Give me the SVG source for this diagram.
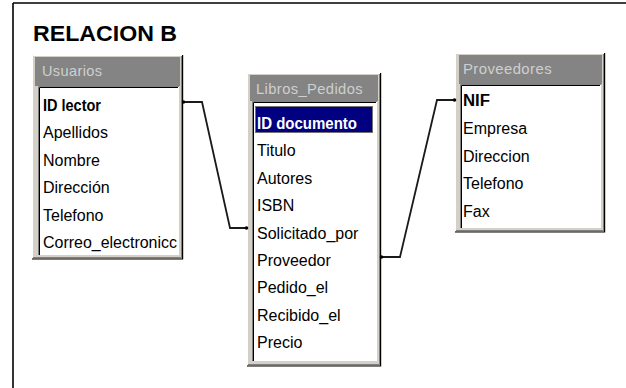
<svg xmlns="http://www.w3.org/2000/svg" width="626" height="388" viewBox="0 0 626 388">
<style>
.frame{fill:#d4d0c8;}
.hl{stroke:#ffffff;stroke-width:1;fill:none;}
.sh1{stroke:#000000;stroke-width:1.2;fill:none;}
.sh2{stroke:#808080;stroke-width:1;fill:none;}
.head{fill:#848484;}
.htxt{font-family:"Liberation Sans",Arial,sans-serif;font-size:14.5px;fill:#cfcfcf;letter-spacing:0.4px;}
.list{fill:#ffffff;}
.sunk1{stroke:#808080;stroke-width:1;fill:none;}
.sunk2{stroke:#000000;stroke-width:1;fill:none;}
.f{font-family:"Liberation Sans",Arial,sans-serif;font-size:16px;fill:#000000;}
.fb{font-family:"Liberation Sans",Arial,sans-serif;font-size:16px;font-weight:bold;fill:#000000;}
.conn{stroke:#1a1a1a;stroke-width:1.8;fill:none;stroke-linejoin:miter;}
.dot{fill:#000000;}
</style>

<g id="page">
<line x1="13" y1="3" x2="626" y2="3" stroke="#000" stroke-width="1.6"/>
<line x1="13" y1="3" x2="13" y2="388" stroke="#000" stroke-width="1.6"/>
<text x="33" y="41" font-family="Liberation Sans,Arial,sans-serif" font-size="22" font-weight="bold" fill="#000" textLength="144" lengthAdjust="spacingAndGlyphs">RELACION B</text>
</g>

<g id="usuarios">
<rect class="frame" x="32" y="55" width="151" height="204"/>
<polyline class="hl" points="32.5,258 32.5,55.5 182,55.5"/>
<polyline class="sh2" points="33,257.5 181.5,257.5 181.5,56"/>
<polyline class="sh1" points="32,259 182.6,259 182.6,55"/>
<rect class="head" x="35" y="57" width="145" height="29"/>
<text class="htxt" x="42" y="76">Usuarios</text>
<rect class="list" x="39" y="87" width="140" height="168"/>
<polyline class="sunk1" points="38.5,255 38.5,86.5 179,86.5"/>
<polyline class="sunk2" points="39.5,255 39.5,87.5 178,87.5"/>
<text class="fb" x="43" y="111" textLength="58" lengthAdjust="spacingAndGlyphs">ID lector</text>
<text class="f" x="43" y="138">Apellidos</text>
<text class="f" x="43" y="165.5">Nombre</text>
<text class="f" x="43" y="193">Dirección</text>
<text class="f" x="43" y="220.5">Telefono</text>
<text class="f" x="43" y="248" textLength="134" lengthAdjust="spacingAndGlyphs">Correo_electronicc</text>
</g>

<g id="libros_pedidos">
<rect class="frame" x="247" y="73" width="134" height="293"/>
<polyline class="hl" points="247.5,365 247.5,73.5 380,73.5"/>
<polyline class="sh2" points="248,364.5 379.5,364.5 379.5,74"/>
<polyline class="sh1" points="247,366 380.6,366 380.6,73"/>
<rect class="head" x="250" y="75" width="128" height="26"/>
<text class="htxt" x="256" y="94" textLength="107" lengthAdjust="spacingAndGlyphs">Libros_Pedidos</text>
<rect class="list" x="253" y="102" width="124" height="259"/>
<polyline class="sunk1" points="252.5,361 252.5,101.5 377,101.5"/>
<polyline class="sunk2" points="253.5,361 253.5,102.5 376,102.5"/>
<rect x="255" y="106" width="118" height="27" fill="#000080"/>
<rect x="255.5" y="106.5" width="117" height="26" fill="none" stroke="#e8e060" stroke-width="1" stroke-dasharray="1,1"/>
<text class="fb" x="257" y="129" fill="#ffffff" style="fill:#ffffff" textLength="100" lengthAdjust="spacingAndGlyphs">ID documento</text>
<text class="f" x="257" y="156">Titulo</text>
<text class="f" x="257" y="183.5">Autores</text>
<text class="f" x="257" y="211">ISBN</text>
<text class="f" x="257" y="238.5">Solicitado_por</text>
<text class="f" x="257" y="265.5">Proveedor</text>
<text class="f" x="257" y="293">Pedido_el</text>
<text class="f" x="257" y="320.5">Recibido_el</text>
<text class="f" x="257" y="347.5">Precio</text>
</g>

<g id="proveedores">
<rect class="frame" x="455" y="53" width="150" height="179"/>
<polyline class="hl" points="455.5,231 455.5,53.5 604,53.5"/>
<polyline class="sh2" points="456,230.5 603.5,230.5 603.5,54"/>
<polyline class="sh1" points="455,232 604.6,232 604.6,53"/>
<rect class="head" x="459" y="55" width="143" height="29"/>
<text class="htxt" x="463" y="74" textLength="89" lengthAdjust="spacingAndGlyphs">Proveedores</text>
<rect class="list" x="461" y="85" width="140" height="143"/>
<polyline class="sunk1" points="460.5,228 460.5,84.5 601,84.5"/>
<polyline class="sunk2" points="461.5,228 461.5,85.5 600,85.5"/>
<text class="fb" x="463" y="106" textLength="27" lengthAdjust="spacingAndGlyphs">NIF</text>
<text class="f" x="463" y="133.5">Empresa</text>
<text class="f" x="463" y="161.5">Direccion</text>
<text class="f" x="463" y="189">Telefono</text>
<text class="f" x="463" y="216.5">Fax</text>
</g>

<g id="connectors">
<polyline class="conn" points="183,102 202,102 230,228 247,228"/>
<circle class="dot" cx="183.5" cy="102" r="1.8"/>
<circle class="dot" cx="246.5" cy="228" r="1.8"/>
<polyline class="conn" points="381,257 400,257 437,100 455,100"/>
<circle class="dot" cx="381.5" cy="257" r="1.8"/>
<circle class="dot" cx="454.5" cy="100" r="1.8"/>
</g>
</svg>
